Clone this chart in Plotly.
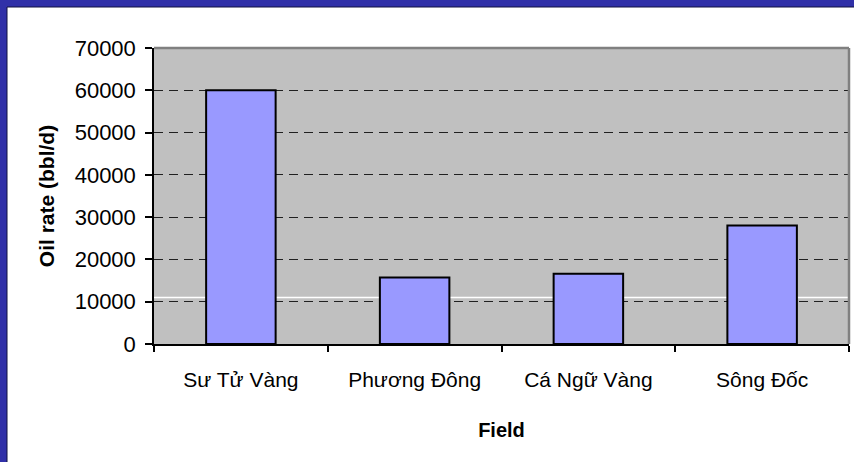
import plotly.graph_objects as go

# ---- data ----
fields = ["Sư Tử Vàng", "Phương Đông", "Cá Ngữ Vàng", "Sông Đốc"]
oil_rate = [60000, 15700, 16600, 28000]
y_tick_values = [0, 10000, 20000, 30000, 40000, 50000, 60000, 70000]
y_tick_labels = ["0", "10000", "20000", "30000", "40000", "50000", "60000", "70000"]
white_line_level = [11000]

FONT = "Liberation Sans, Arial, sans-serif"

fig = go.Figure()
fig.add_trace(go.Bar(
    x=fields, y=oil_rate,
    marker=dict(color="#9999FF", line=dict(color="black", width=2)),
    hoverinfo="x+y",
))

fig.update_layout(
    width=854, height=462,
    margin=dict(l=154, r=5, t=48, b=118),
    paper_bgcolor="white",
    plot_bgcolor="#C0C0C0",
    bargap=0.6,
    showlegend=False,
    font=dict(family=FONT, size=21, color="black"),
    xaxis=dict(
        type="category",
        showline=True, linecolor="black", linewidth=1.5,
        ticks="outside", tickson="boundaries", ticklen=6, tickcolor="black", tickwidth=1.5,
        ticklabelstandoff=16,
        showgrid=False,
        tickfont=dict(family=FONT, size=21),
        title=dict(text="<b>Field</b>", font=dict(family=FONT, size=20), standoff=33),
    ),
    yaxis=dict(
        range=[0, 70000],
        tickvals=y_tick_values, ticktext=y_tick_labels,
        showline=True, linecolor="black", linewidth=1.5,
        ticks="outside", ticklen=7, tickcolor="black", tickwidth=1.5,
        ticklabelstandoff=5,
        showgrid=True, gridcolor="#202020", gridwidth=1, griddash="9px,6px",
        zeroline=False,
        tickfont=dict(family=FONT, size=22),
        title=dict(text="<b>Oil rate (bbl/d)</b>", font=dict(family=FONT, size=21), standoff=14),
    ),
)

# stray white horizontal line behind the bars
for lvl in white_line_level:
    fig.add_shape(type="line", xref="x domain", yref="y", x0=0, x1=1, y0=lvl, y1=lvl,
                  layer="below", line=dict(color="white", width=1.5))

# gray top and right border of the plot area
fig.add_shape(type="line", xref="x domain", yref="y domain", x0=0, x1=1, y0=1, y1=1,
              layer="above", line=dict(color="#808080", width=2.5))
fig.add_shape(type="line", xref="x domain", yref="y domain", x0=1, x1=1, y0=0, y1=1,
              layer="above", line=dict(color="#808080", width=2.5))

# blue slide border (left and top strips) in paper coordinates
pw = 854 - 154 - 5
ph = 462 - 48 - 118
px_x = 7 / pw
px_y = 7 / ph
left_edge = -154 / pw
top_edge = 1 + 48 / ph
bottom_edge = -118 / ph
right_edge = 1 + 5 / pw
fig.add_shape(type="rect", xref="paper", yref="paper",
              x0=left_edge, x1=left_edge + px_x, y0=bottom_edge, y1=top_edge,
              layer="above", line=dict(width=0), fillcolor="#3030A8")
fig.add_shape(type="rect", xref="paper", yref="paper",
              x0=left_edge, x1=right_edge, y0=top_edge - px_y, y1=top_edge,
              layer="above", line=dict(width=0), fillcolor="#3030A8")
fig.add_shape(type="line", xref="paper", yref="paper",
              x0=left_edge + px_x, x1=right_edge, y0=top_edge - px_y, y1=top_edge - px_y,
              layer="above", line=dict(color="#101040", width=1))
fig.add_shape(type="line", xref="paper", yref="paper",
              x0=left_edge + px_x, x1=left_edge + px_x, y0=bottom_edge, y1=top_edge - px_y,
              layer="above", line=dict(color="#101040", width=1))

fig.write_html("out.html", config={"displayModeBar": False},
               post_script="document.body.style.margin='0';document.body.style.overflow='hidden';")
